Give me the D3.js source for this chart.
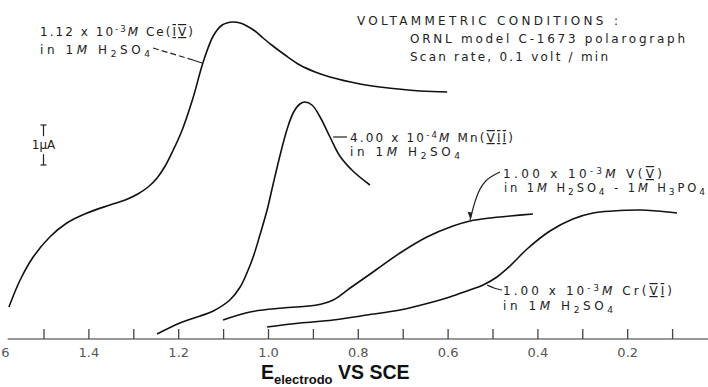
<!DOCTYPE html>
<html><head><meta charset="utf-8">
<script src="https://cdn.jsdelivr.net/npm/d3@7"></script>
<style>
html,body{margin:0;padding:0;background:#fff;}
svg{display:block;}
</style></head>
<body>
<svg id="chart" width="708" height="387"></svg>
<script>
// ---------- DATA (potential E in V vs SCE, current in µA) ----------
const ceE = [1.577,1.552,1.523,1.486,1.448,1.403,1.352,1.318,1.290,1.267,1.247,1.229,1.212,1.192,1.167,1.145,1.122,1.102,1.078,1.062,1.047,1.029,1.011,0.989,0.962,0.929,0.895,0.862,0.795,0.751,0.661,0.601];
const ceI = [0.80,1.475,2.05,2.55,2.90,3.15,3.35,3.475,3.625,3.80,4.025,4.325,4.70,5.20,6.025,6.90,7.575,7.85,7.925,7.90,7.825,7.70,7.525,7.325,7.10,6.85,6.675,6.55,6.375,6.30,6.20,6.175];

const mnE = [1.247,1.196,1.151,1.122,1.085,1.062,1.047,1.033,1.018,1.002,0.989,0.973,0.958,0.944,0.929,0.918,0.902,0.884,0.862,0.840,0.811,0.773];
const mnI = [0.125,0.40,0.575,0.70,0.975,1.30,1.65,2.05,2.60,3.225,3.85,4.60,5.225,5.65,5.875,5.925,5.85,5.55,5.05,4.575,4.20,3.85];

const vE = [1.100,1.040,0.967,0.891,0.855,0.817,0.766,0.706,0.646,0.588,0.550,0.506,0.461,0.410];
const vI = [0.475,0.675,0.775,0.85,0.975,1.275,1.675,2.15,2.55,2.825,2.95,3.025,3.075,3.125];

const crE = [1.002,0.929,0.855,0.780,0.706,0.633,0.595,0.557,0.521,0.490,0.461,0.423,0.372,0.321,0.276,0.232,0.171,0.134,0.089];
const crI = [0.30,0.40,0.475,0.60,0.725,0.925,1.05,1.20,1.35,1.55,1.825,2.25,2.70,3.00,3.15,3.20,3.225,3.20,3.15];

const tickValues = [1.6,1.5,1.4,1.3,1.2,1.1,1.0,0.9,0.8,0.7,0.6,0.5,0.4,0.3,0.2,0.1];
const tickLabels = ["1.6","","1.4","","1.2","","1.0","","0.8","","0.6","","0.4","","0.2",""];

// ---------- SCALES ----------
const svg = d3.select("#chart");
const x = d3.scaleLinear().domain([1.6, 0.0]).range([-1.4, 717]);
const y = d3.scaleLinear().domain([0, 8]).range([339, 19]);

const line = d3.line().x(d => x(d[0])).y(d => y(d[1])).curve(d3.curveCatmullRom.alpha(0.5));
const zip = (a, b) => a.map((v, i) => [v, b[i]]);

// ---------- AXIS ----------
svg.append("line")
  .attr("x1", x(1.58)).attr("x2", x(0)).attr("y1", y(0)).attr("y2", y(0))
  .attr("stroke", "#777").attr("stroke-width", 1.4);

const axis = d3.axisBottom(x)
  .tickValues(tickValues)
  .tickSizeInner(-10).tickSizeOuter(0).tickPadding(9)
  .tickFormat((d, i) => tickLabels[i]);
const gAxis = svg.append("g").attr("transform", `translate(0,${y(0)})`).call(axis);
gAxis.select(".domain").remove();
gAxis.selectAll(".tick line").attr("stroke", "#444").attr("stroke-width", 1.3);
gAxis.selectAll(".tick text").attr("fill", "#555")
  .style("font-family", "'DejaVu Sans', sans-serif").style("font-size", "13px");

// ---------- CURVES ----------
[[ceE, ceI], [mnE, mnI], [vE, vI], [crE, crI]].forEach(([e, i]) => {
  svg.append("path").attr("d", line(zip(e, i)))
    .attr("fill", "none").attr("stroke", "#111").attr("stroke-width", 1.6);
});

// ---------- SCALE BAR (1 µA) ----------
const barE = 1.5;
const ink = "#222";
svg.append("line").attr("x1", x(barE)).attr("x2", x(barE)).attr("y1", y(5.35)).attr("y2", y(5.07)).attr("stroke", ink).attr("stroke-width", 1.2);
svg.append("line").attr("x1", x(barE) - 3).attr("x2", x(barE) + 3).attr("y1", y(5.35)).attr("y2", y(5.35)).attr("stroke", ink).attr("stroke-width", 1.2);
svg.append("line").attr("x1", x(barE)).attr("x2", x(barE)).attr("y1", y(4.62)).attr("y2", y(4.35)).attr("stroke", ink).attr("stroke-width", 1.2);
svg.append("line").attr("x1", x(barE) - 3).attr("x2", x(barE) + 3).attr("y1", y(4.35)).attr("y2", y(4.35)).attr("stroke", ink).attr("stroke-width", 1.2);
svg.append("text").attr("x", x(barE)).attr("y", y(4.85) + 4).attr("text-anchor", "middle")
  .attr("fill", ink).style("font-family", "'DejaVu Sans', sans-serif").style("font-size", "12px")
  .text("1µA");

// ---------- RICH TEXT HELPER ----------
function rich(xp, yp, segs, len, size) {
  const t = svg.append("text").attr("x", xp).attr("y", yp).attr("fill", ink)
    .style("font-family", "'DejaVu Sans', sans-serif").style("font-size", (size || 12) + "px");
  if (len) t.attr("textLength", len).attr("lengthAdjust", "spacing");
  segs.forEach(s => {
    const [txt, k] = typeof s === "string" ? [s, "n"] : s;
    const ts = t.append("tspan").text(txt);
    if (k === "sup") ts.attr("baseline-shift", "45%").style("font-size", "8.5px");
    if (k === "sub") ts.attr("baseline-shift", "-30%").style("font-size", "9px");
    if (k === "it") ts.style("font-style", "italic");
    if (k === "rn") ts.style("text-decoration", "overline underline");
  });
  return t;
}

// Ce(IV)
rich(40, 36, ["1.12 x 10", ["-3", "sup"], ["M", "it"], " Ce(", ["IV", "rn"], ")"], 153);
rich(40, 54, ["in 1", ["M", "it"], " H", ["2", "sub"], "SO", ["4", "sub"]], 110);
// Mn(VII)
rich(350, 142, ["4.00 x 10", ["-4", "sup"], ["M", "it"], " Mn(", ["VII", "rn"], ")"], 163);
rich(350, 156, ["in 1", ["M", "it"], "  H", ["2", "sub"], "SO", ["4", "sub"]], 110);
// V(V)
rich(503, 178, ["1.00 x 10", ["-3", "sup"], ["M", "it"], "  V(", ["V", "rn"], ")"], 159);
rich(504, 192, ["in 1", ["M", "it"], " H", ["2", "sub"], "SO", ["4", "sub"], " - 1", ["M", "it"], " H", ["3", "sub"], "PO", ["4", "sub"]], 201, 11.5);
// Cr(VI)
rich(503, 295, ["1.00 x 10", ["-3", "sup"], ["M", "it"], "  Cr(", ["VI", "rn"], ")"], 169);
rich(503, 310, ["in 1", ["M", "it"], "  H", ["2", "sub"], "SO", ["4", "sub"]], 110);
// Conditions
rich(357, 25, ["VOLTAMMETRIC CONDITIONS :"], 261);
rich(410, 43, ["ORNL model C-1673 polarograph"], 275);
rich(410, 61, ["Scan rate, 0.1 volt / min"], 198);

// ---------- LEADER LINES ----------
const lead = (pts, dash) => svg.append("path").attr("d", d3.line().x(d => x(d[0])).y(d => y(d[1])).curve(d3.curveBasis)(pts))
  .attr("fill", "none").attr("stroke", ink).attr("stroke-width", 1.2).attr("stroke-dasharray", dash || null);
lead([[1.256, 7.275], [1.167, 6.975]], "6,3");
lead([[1.167, 6.975], [1.147, 6.90]]);
lead([[0.855, 5.05], [0.824, 5.05]]);
lead([[0.483, 4.175], [0.519, 3.975], [0.537, 3.55], [0.550, 2.98]]);
lead([[0.479, 1.225], [0.495, 1.26], [0.512, 1.35]]);
// arrowhead on V leader
const ax = x(0.550), ay = y(2.98);
svg.append("path").attr("d", `M${ax - 2.5},${ay - 8}L${ax + 0.5},${ay}L${ax + 2.5},${ay - 7}Z`).attr("fill", ink);

// ---------- AXIS TITLE ----------
const title = svg.append("text").attr("x", 261).attr("y", 379).attr("fill", "#111")
  .style("font-family", "'Liberation Sans', Arial, sans-serif").style("font-weight", "bold").style("font-size", "19.5px");
title.append("tspan").text("E");
title.append("tspan").text("electrodo").attr("baseline-shift", "-5").style("font-size", "13px");
title.append("tspan").text(" VS SCE");
</script>
</body></html>
